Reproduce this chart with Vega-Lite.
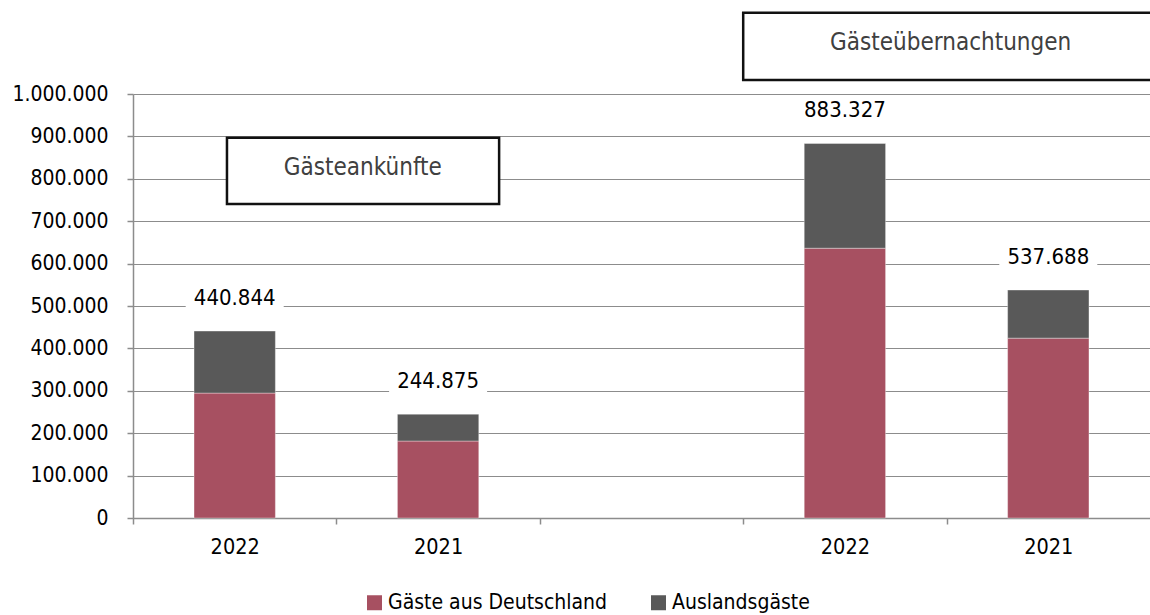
{
  "$schema": "https://vega.github.io/schema/vega-lite/v6.json",
  "width": 1017,
  "height": 424,
  "autosize": {"type": "none"},
  "padding": {"left": 133, "top": 94, "right": 0, "bottom": 97},
  "background": "white",
  "config": {
    "font": "DejaVu Sans Condensed",
    "view": {"stroke": null},
    "axis": {"labelFont": "DejaVu Sans Condensed", "labelColor": "#000000", "domainColor": "#8c8c8c", "tickColor": "#8c8c8c", "gridColor": "#8c8c8c", "domainWidth": 1.5, "tickWidth": 1.5, "gridWidth": 1.2},
    "legend": {"labelFont": "DejaVu Sans Condensed"},
    "text": {"font": "DejaVu Sans Condensed"}
  },
  "datasets": {
    "gaeste": [
      {"Gruppe": "Gästeankünfte 2022", "Herkunft": "Gäste aus Deutschland", "Anzahl": 294600},
      {"Gruppe": "Gästeankünfte 2022", "Herkunft": "Auslandsgäste", "Anzahl": 146244},
      {"Gruppe": "Gästeankünfte 2021", "Herkunft": "Gäste aus Deutschland", "Anzahl": 181500},
      {"Gruppe": "Gästeankünfte 2021", "Herkunft": "Auslandsgäste", "Anzahl": 63375},
      {"Gruppe": "Gästeübernachtungen 2022", "Herkunft": "Gäste aus Deutschland", "Anzahl": 636300},
      {"Gruppe": "Gästeübernachtungen 2022", "Herkunft": "Auslandsgäste", "Anzahl": 247027},
      {"Gruppe": "Gästeübernachtungen 2021", "Herkunft": "Gäste aus Deutschland", "Anzahl": 424200},
      {"Gruppe": "Gästeübernachtungen 2021", "Herkunft": "Auslandsgäste", "Anzahl": 113488}
    ],
    "box1": [
      {"Titel": "Gästeankünfte", "von": "Gästeankünfte 2022", "bis": "Gästeankünfte 2021", "oben": 897000, "unten": 740700, "mitte": 826000}
    ],
    "box2": [
      {"Titel": "Gästeübernachtungen", "von": "Gästeübernachtungen 2022", "bis": "Gästeübernachtungen 2021", "oben": 1191600, "unten": 1033000, "mitte": 1120500}
    ]
  },
  "layer": [
    {
      "data": {"name": "gaeste"},
      "mark": {"type": "bar", "width": {"band": 0.4}, "stroke": "#ffffff", "strokeWidth": 0.6, "strokeOpacity": 0.6},
      "encoding": {
        "x": {
          "field": "Gruppe",
          "type": "nominal",
          "title": null,
          "scale": {"domain": ["Gästeankünfte 2022", "Gästeankünfte 2021", "Lücke", "Gästeübernachtungen 2022", "Gästeübernachtungen 2021"], "paddingInner": 0, "paddingOuter": 0},
          "axis": {"orient": "bottom", "labelExpr": "datum.value == 'Lücke' ? '' : slice(datum.value, -4)", "tickOffset": -101.7, "labelOffset": 101.7, "labelAngle": 0, "labelFontSize": 21.5, "labelPadding": 12, "tickSize": 6, "grid": false}
        },
        "y": {
          "field": "Anzahl",
          "type": "quantitative",
          "stack": "zero",
          "title": null,
          "scale": {"domain": [0, 1000000], "nice": false},
          "axis": {"orient": "left", "values": [0, 100000, 200000, 300000, 400000, 500000, 600000, 700000, 800000, 900000, 1000000], "labelExpr": "replace(format(datum.value, ',d'), regexp(',', 'g'), '.')", "grid": true, "labelFontSize": 21, "labelPadding": 19, "tickSize": 6}
        },
        "color": {
          "field": "Herkunft",
          "type": "nominal",
          "sort": ["Gäste aus Deutschland", "Auslandsgäste"],
          "scale": {"domain": ["Gäste aus Deutschland", "Auslandsgäste"], "range": ["#a75061", "#595959"]},
          "legend": {"orient": "none", "legendX": 231, "legendY": 498, "direction": "horizontal", "title": null, "symbolType": "square", "symbolSize": 225, "symbolStrokeWidth": 0, "labelFontSize": 21, "labelLimit": 400, "labelColor": "#000000", "labelOffset": 3, "columnPadding": 40}
        },
        "order": {"field": "Herkunft", "sort": "descending"}
      }
    },
    {
      "data": {"name": "gaeste"},
      "transform": [
        {"aggregate": [{"op": "sum", "field": "Anzahl", "as": "Summe"}], "groupby": ["Gruppe"]},
        {"calculate": "replace(format(datum.Summe, ',d'), regexp(',', 'g'), '.')", "as": "Beschriftung"}
      ],
      "layer": [
        {
          "mark": {"type": "point", "shape": "M-1,-0.27H1V0.27H-1Z", "size": 9604, "filled": true, "fill": "#ffffff", "opacity": 1, "yOffset": -33},
          "encoding": {
            "x": {"field": "Gruppe", "type": "nominal"},
            "y": {"field": "Summe", "type": "quantitative"}
          }
        },
        {
          "mark": {"type": "text", "fontSize": 22, "color": "#000000", "baseline": "middle", "yOffset": -33},
          "encoding": {
            "x": {"field": "Gruppe", "type": "nominal"},
            "y": {"field": "Summe", "type": "quantitative"},
            "text": {"field": "Beschriftung", "type": "nominal"}
          }
        }
      ]
    },
    {
      "data": {"name": "box1"},
      "mark": {"type": "rect", "fill": "#ffffff", "stroke": "#111111", "strokeWidth": 2.5},
      "encoding": {
        "x": {"field": "von", "type": "nominal", "bandPosition": 0.462},
        "x2": {"field": "bis", "bandPosition": 0.8},
        "y": {"field": "oben", "type": "quantitative"},
        "y2": {"field": "unten"}
      }
    },
    {
      "data": {"name": "box1"},
      "mark": {"type": "text", "fontSize": 24, "color": "#404040", "baseline": "middle", "align": "center"},
      "encoding": {
        "x": {"field": "bis", "type": "nominal", "bandPosition": 0.13},
        "y": {"field": "mitte", "type": "quantitative"},
        "text": {"field": "Titel", "type": "nominal"}
      }
    },
    {
      "data": {"name": "box2"},
      "mark": {"type": "rect", "fill": "#ffffff", "stroke": "#111111", "strokeWidth": 2.5},
      "encoding": {
        "x": {"field": "von", "type": "nominal", "bandPosition": 0},
        "x2": {"field": "bis", "bandPosition": 1.3},
        "y": {"field": "oben", "type": "quantitative"},
        "y2": {"field": "unten"}
      }
    },
    {
      "data": {"name": "box2"},
      "mark": {"type": "text", "fontSize": 24, "color": "#404040", "baseline": "middle", "align": "center"},
      "encoding": {
        "x": {"field": "bis", "type": "nominal", "bandPosition": 0.02},
        "y": {"field": "mitte", "type": "quantitative"},
        "text": {"field": "Titel", "type": "nominal"}
      }
    }
  ]
}
